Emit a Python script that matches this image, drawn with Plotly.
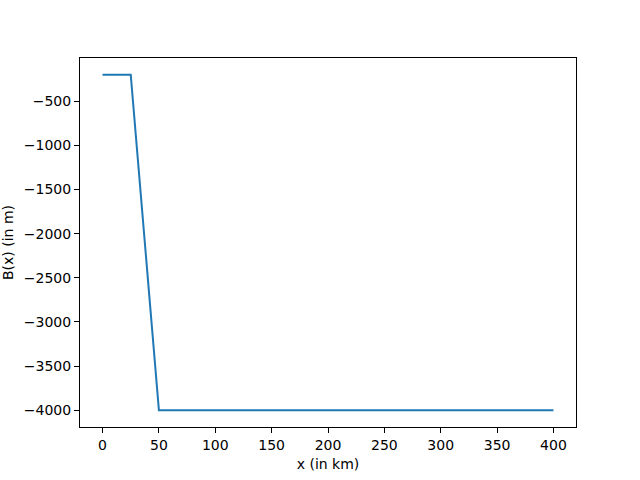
import plotly.graph_objects as go

x_km = [0, 25, 50, 400]
depth_m = [-200, -200, -4000, -4000]
x_ticks = [0, 50, 100, 150, 200, 250, 300, 350, 400]
y_ticks = [-500, -1000, -1500, -2000, -2500, -3000, -3500, -4000]

fig = go.Figure(
    go.Scatter(
        x=x_km,
        y=depth_m,
        mode="lines",
        line={"color": "#1f77b4", "width": 2},
        showlegend=False,
    )
)

axis_style = dict(
    automargin=False,
    showline=True,
    linecolor="black",
    linewidth=1,
    mirror=True,
    showgrid=False,
    zeroline=False,
    ticks="outside",
    ticklen=5,
    tickwidth=1,
    tickcolor="black",
    tickfont={"size": 14, "color": "black"},
)

fig.update_layout(
    width=640,
    height=480,
    paper_bgcolor="white",
    plot_bgcolor="white",
    margin={"l": 80, "r": 64, "t": 58, "b": 53, "pad": 0},
    font={"family": "DejaVu Sans", "size": 14, "color": "black"},
)
fig.update_xaxes(
    **axis_style,
    range=[-20, 420],
    tickvals=x_ticks,
    title={"text": "x (in km)", "standoff": 7, "font": {"size": 14}},
)
fig.update_yaxes(
    **axis_style,
    range=[-4190, -10],
    tickvals=y_ticks,
    title={"text": "B(x) (in m)", "standoff": 10, "font": {"size": 14}},
)

# drop the browser's default body margin so the figure sits at the page origin
fig.write_html(
    "out.html",
    config={"displayModeBar": False},
    post_script="document.body.style.margin = '0';",
)
